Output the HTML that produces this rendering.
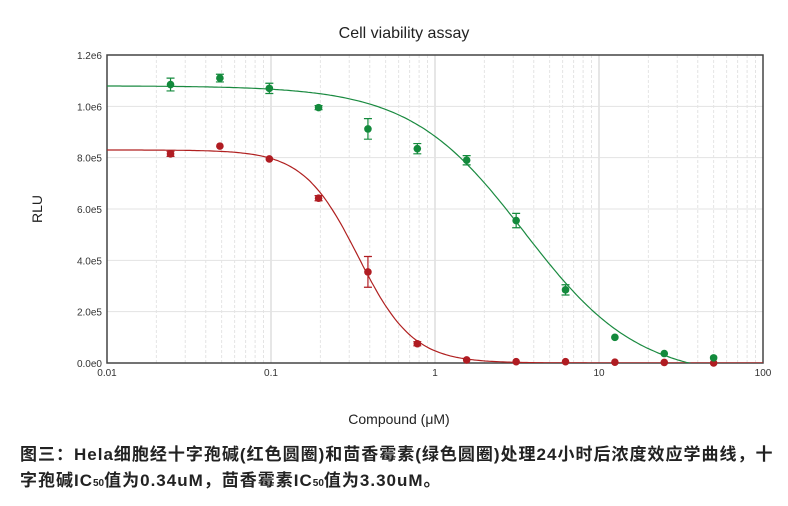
<!DOCTYPE html>
<html><head><meta charset="utf-8"><style>
body{margin:0;background:#fff;width:788px;height:506px;overflow:hidden;font-family:"Liberation Sans","Noto Sans CJK SC",sans-serif}
.cap{position:absolute;left:20px;top:442px;font-size:17px;letter-spacing:1px;font-weight:bold;color:#222;line-height:26px;white-space:nowrap;font-family:"Liberation Sans","Noto Sans CJK SC",sans-serif}
</style></head><body>
<svg id="s" width="788" height="440" style="position:absolute;left:0;top:0" font-family="Liberation Sans, sans-serif"></svg>
<div class="cap">图三：Hela细胞经十字孢碱(红色圆圈)和茴香霉素(绿色圆圈)处理24小时后浓度效应学曲线，十<br>字孢碱IC<small style="font-size:10px;letter-spacing:0">50</small>值为0.34uM，茴香霉素IC<small style="font-size:10px;letter-spacing:0">50</small>值为3.30uM。</div>
<script>
const L=107,R=763,T=55,B=363;
const X=v=>L+(Math.log10(v)+2)*(R-L)/4, Y=v=>B-v*(B-T)/1.2e6;
let h='';
h+=`<text x="404" y="38" font-size="16" text-anchor="middle" fill="#222">Cell viability assay</text>`;
for(let d=-2;d<2;d++)for(let k=2;k<10;k++){const x=X(k*Math.pow(10,d));h+=`<line x1="${x}" y1="${T}" x2="${x}" y2="${B}" stroke="#e4e4e4" stroke-dasharray="3,2"/>`;}
for(let d=-1;d<2;d++){const x=X(Math.pow(10,d));h+=`<line x1="${x}" y1="${T}" x2="${x}" y2="${B}" stroke="#ccc"/>`;}
const yl=['0.0e0','2.0e5','4.0e5','6.0e5','8.0e5','1.0e6','1.2e6'];
yl.forEach((t,i)=>{const y=Y(i*2e5);h+=`<line x1="${L}" y1="${y}" x2="${R}" y2="${y}" stroke="#e3e3e3"/><text x="${L-5}" y="${y+4}" font-size="10" text-anchor="end" fill="#333">${t}</text>`;});
['0.01','0.1','1','10','100'].forEach((t,i)=>{h+=`<text x="${L+i*(R-L)/4}" y="${B+13}" font-size="10" text-anchor="middle" fill="#333">${t}</text>`;});
h+=`<rect x="${L}" y="${T}" width="${R-L}" height="${B-T}" fill="none" stroke="#444" stroke-width="1.5"/>`;
h+=`<text x="399" y="424" font-size="14" text-anchor="middle" fill="#222">Compound (μM)</text>`;
h+=`<text transform="translate(42,209) rotate(-90)" font-size="14" text-anchor="middle" fill="#222">RLU</text>`;
h+=`<clipPath id="c"><rect x="${L}" y="${T}" width="${R-L}" height="${B-T}"/></clipPath>`;
function curve(top,bot,ic,hl,col){let p='';for(let i=0;i<=300;i++){const lx=-2+4*i/300,v=Math.pow(10,lx);const y=bot+(top-bot)/(1+Math.pow(v/ic,hl));p+=(i?'L':'M')+X(v).toFixed(1)+','+Y(y).toFixed(1);}return `<path d="${p}" fill="none" stroke="${col}" stroke-width="1.2" clip-path="url(#c)"/>`;}
h+=curve(830000,0,0.34,2.6,'#b02020');
h+=curve(1.08e6,-60000,3.5,1.25,'#1a8a40');
const xs=[0.0244,0.0488,0.0977,0.195,0.39,0.78,1.56,3.125,6.25,12.5,25,50];
const red=[815e3,845e3,795e3,642e3,355e3,75e3,12e3,5e3,5e3,3e3,2e3,0];
const re=[10e3,0,0,10e3,60e3,8e3,0,0,0,0,0,0];
const gr=[1.085e6,1.11e6,1.07e6,995e3,912e3,835e3,790e3,555e3,285e3,100e3,37e3,20e3];
const ge=[25e3,15e3,20e3,8e3,40e3,20e3,18e3,28e3,20e3,0,0,0];
function pts(d,e,col){let s='';d.forEach((v,i)=>{const x=X(xs[i]);if(e[i]){const a=Y(v+e[i]),b=Y(v-e[i]);s+=`<path d="M${x},${a}V${b}M${x-4},${a}H${x+4}M${x-4},${b}H${x+4}" stroke="${col}" stroke-width="1.2"/>`;}s+=`<circle cx="${x}" cy="${Y(v)}" r="3.8" fill="${col}"/>`;});return s;}
h+=pts(red,re,'#b01c22');h+=pts(gr,ge,'#138a3c');
document.getElementById('s').innerHTML=h;
</script>
</body></html>
